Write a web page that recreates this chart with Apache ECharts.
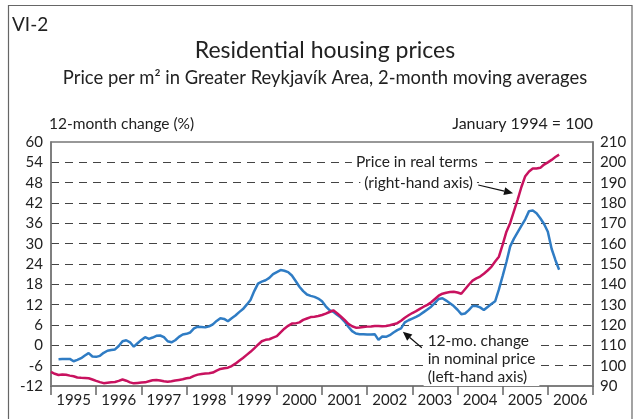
<!DOCTYPE html>
<html>
<head>
<meta charset="utf-8">
<script src="https://cdn.jsdelivr.net/npm/echarts@6/dist/echarts.min.js"></script>
<style>
  html, body { margin: 0; padding: 0; background: #fff; }
  #chart { width: 638px; height: 419px; }
</style>
</head>
<body>
<div id="chart"></div>
<script>
// Year labels for the horizontal axis
const years = ['1995', '1996', '1997', '1998', '1999', '2000',
               '2001', '2002', '2003', '2004', '2005', '2006'];

// Price in real terms, January 1994 = 100 (monthly, Jan 1995 - Apr 2006)
const realPrice = [
  96.9, 96.0, 95.4, 95.6, 95.5, 95.1, 94.8, 94.2, 94.0, 93.9, 93.8, 93.2,
  92.5, 91.9, 91.4, 91.6, 91.8, 92.0, 92.5, 93.2, 92.6, 91.8, 91.3, 91.5,
  91.7, 91.8, 92.3, 92.8, 93.0, 92.7, 92.3, 92.1, 92.3, 92.7, 93.0, 93.3,
  93.8, 94.1, 95.0, 95.6, 95.9, 96.1, 96.3, 96.6, 97.6, 98.4, 98.7, 99.0,
  99.8, 101.0, 102.4, 103.8, 105.3, 106.8, 108.5, 110.3, 112.0, 112.7, 113.0, 113.8,
  114.5, 116.4, 118.2, 119.6, 120.7, 120.8, 121.3, 122.5, 123.2, 123.9, 124.1, 124.4,
  124.9, 125.6, 126.4, 127.2, 125.8, 124.2, 122.5, 120.6, 119.4, 118.7, 118.8, 119.0,
  119.2, 119.3, 119.5, 119.5, 119.4, 119.5, 119.9, 120.4, 120.9, 122.1, 123.6, 124.8,
  125.9, 126.8, 127.9, 129.0, 129.9, 131.2, 132.8, 134.4, 135.4, 135.9, 136.2, 136.4,
  136.0, 135.4, 137.6, 139.8, 141.8, 142.9, 143.8, 145.2, 146.8, 148.6, 151.2, 153.6,
  159.5, 165.9, 170.2, 176.0, 181.8, 188.0, 193.2, 195.5, 197.0, 197.0, 197.3, 198.9,
  200.0, 201.2, 202.6, 203.8
];

// 12-month change in nominal price, % (monthly, Mar 1995 - Apr 2006)
const nominalChange = [
  -4.1, -4.0, -4.0, -4.0, -4.7, -4.3, -3.8, -3.0, -2.3, -3.3,
  -3.4, -3.1, -2.2, -1.6, -1.4, -1.2, -0.2, 1.2, 1.5, 0.9, -0.4, 0.6,
  1.6, 2.4, 1.9, 2.3, 2.8, 2.9, 2.4, 1.2, 0.9, 1.5, 2.5, 3.2,
  3.4, 3.8, 5.0, 5.5, 5.4, 5.3, 5.6, 6.2, 7.2, 8.0, 7.8, 7.1,
  8.0, 8.8, 9.8, 10.7, 12.0, 13.4, 16.0, 18.2, 18.8, 19.2, 19.9, 21.0,
  21.6, 22.2, 22.0, 21.6, 20.6, 19.0, 17.3, 16.0, 15.0, 14.6, 14.3, 13.8,
  13.0, 11.5, 10.4, 9.9, 9.0, 8.2, 7.0, 5.5, 4.2, 3.5, 3.3, 3.3,
  3.2, 3.2, 3.3, 1.6, 2.6, 2.5, 3.0, 3.8, 4.5, 5.0, 6.8, 7.4,
  7.9, 8.4, 9.0, 9.8, 10.6, 11.4, 12.5, 13.7, 13.9, 13.2, 12.4, 11.6,
  10.5, 9.2, 9.4, 10.4, 11.6, 11.6, 11.2, 10.4, 11.3, 12.2, 13.0, 16.5,
  20.5, 24.6, 29.2, 31.5, 33.4, 35.3, 37.2, 39.6, 39.8, 39.0, 37.5, 35.8,
  33.5, 28.5, 25.2, 22.3
];

const realStart = 1995;             // January 1995
const nominalStart = 1995 + 2 / 12; // March 1995

function monthly(start, values) {
  return values.map((v, i) => [start + i / 12, v]);
}

const FONT = 'Lato';
const TEXT = '#222';
const AXIS = '#777';
const BLUE = '#2f7cc4';
const RED = '#c8125f';

const chart = echarts.init(document.getElementById('chart'), null, { renderer: 'canvas' });

chart.setOption({
  animation: false,
  backgroundColor: '#fff',
  textStyle: { fontFamily: FONT },
  grid: {
    left: 51, right: 45, top: 142, bottom: 33,
    show: true, borderColor: AXIS, borderWidth: 1.5
  },
  xAxis: [
    {
      type: 'value', min: 1995, max: 2007, interval: 1, position: 'bottom',
      axisLine: { onZero: false, lineStyle: { color: AXIS, width: 1.5 } },
      axisTick: { show: true, length: 9, lineStyle: { color: '#666', width: 1.5 } },
      axisLabel: { show: false },
      splitLine: { show: false }
    },
    {
      type: 'category', data: years, position: 'bottom', offset: 0,
      boundaryGap: true,
      axisLine: { show: false, onZero: false }, axisTick: { show: false },
      axisLabel: { interval: 0, color: TEXT, fontSize: 15, fontFamily: FONT, margin: 7 },
      splitLine: { show: false }
    }
  ],
  yAxis: [
    {
      type: 'value', position: 'left', min: -12, max: 60, interval: 6,
      name: '12-month change (%)', nameLocation: 'end', nameGap: 10,
      nameTextStyle: { color: TEXT, fontSize: 15.5, fontFamily: FONT, align: 'left', padding: [0, 0, 0, -2] },
      axisLine: { show: true, onZero: false, lineStyle: { color: AXIS, width: 1.5 } },
      axisTick: { show: false },
      axisLabel: { color: TEXT, fontSize: 15, fontFamily: FONT, margin: 8 },
      splitLine: {
        show: true, showMinLine: false, showMaxLine: false,
        lineStyle: { color: '#444', width: 1, type: [8, 6] }
      }
    },
    {
      type: 'value', position: 'right', min: 90, max: 210, interval: 10,
      name: 'January 1994 = 100', nameLocation: 'end', nameGap: 10,
      nameTextStyle: { color: TEXT, fontSize: 16, fontFamily: FONT, align: 'right', padding: [0, 0, 0, 0] },
      axisLine: { show: true, onZero: false, lineStyle: { color: AXIS, width: 1.5 } },
      axisTick: { show: false },
      axisLabel: { color: TEXT, fontSize: 15, fontFamily: FONT, margin: 7 },
      splitLine: { show: false }
    }
  ],
  series: [
    {
      name: '12-mo. change in nominal price',
      type: 'line', xAxisIndex: 0, yAxisIndex: 0,
      data: monthly(nominalStart, nominalChange),
      showSymbol: false, smooth: false,
      lineStyle: { color: BLUE, width: 2.5 }
    },
    {
      name: 'Price in real terms',
      type: 'line', xAxisIndex: 0, yAxisIndex: 1,
      data: monthly(realStart, realPrice),
      showSymbol: false, smooth: false,
      lineStyle: { color: RED, width: 2.5 }
    }
  ]
});

// Frame, headings and callouts
const px = (x, y) => chart.convertToPixel({ xAxisIndex: 0, yAxisIndex: 0 }, [x, y]);

function arrow(from, to, size) {
  const dx = to[0] - from[0], dy = to[1] - from[1];
  const len = Math.sqrt(dx * dx + dy * dy);
  const ux = dx / len, uy = dy / len;
  const bx = to[0] - ux * size, by = to[1] - uy * size;
  const w = size * 0.45;
  return [
    { type: 'line', z: 20, shape: { x1: from[0], y1: from[1], x2: bx, y2: by },
      style: { stroke: '#111', lineWidth: 1.2 } },
    { type: 'polygon', z: 20,
      shape: { points: [to, [bx - uy * w, by + ux * w], [bx + uy * w, by - ux * w]] },
      style: { fill: '#111' } }
  ];
}

const realLabel = px(2003.1, 54);
const realLabel2 = px(2003.14, 48);
const nomLabel = px(2003.25, 3.95);

chart.setOption({
  graphic: [
    { type: 'rect', z: 0, silent: true,
      shape: { x: 8.5, y: 5.5, width: 623.5, height: 430 },
      style: { fill: 'none', stroke: '#666', lineWidth: 1.2 } },
    { type: 'text', left: 12, top: 15,
      style: { text: 'VI-2', fontFamily: FONT, fontSize: 19, fill: TEXT } },
    { type: 'text', x: 325, y: 51,
      style: { text: 'Residential housing prices', fontFamily: FONT, fontSize: 23,
               fill: TEXT, align: 'center', verticalAlign: 'middle' } },
    { type: 'text', x: 325, y: 78,
      style: { text: 'Price per m\u00b2 in Greater Reykjav\u00edk Area, 2-month moving averages',
               fontFamily: FONT, fontSize: 18.4, fill: TEXT, align: 'center', verticalAlign: 'middle' } },
    { type: 'text', z: 15, x: realLabel[0], y: realLabel[1],
      style: { text: 'Price in real terms', fontFamily: FONT, fontSize: 15.5, fill: TEXT,
               align: 'center', verticalAlign: 'middle', backgroundColor: '#fff', padding: [1, 4] } },
    { type: 'text', z: 15, x: realLabel2[0], y: realLabel2[1],
      style: { text: '(right-hand axis)', fontFamily: FONT, fontSize: 15.5, fill: TEXT,
               align: 'center', verticalAlign: 'middle', backgroundColor: '#fff', padding: [1, 4] } },
    { type: 'text', z: 15, x: nomLabel[0], y: nomLabel[1],
      style: { text: '12-mo. change\nin nominal price\n(left-hand axis)', fontFamily: FONT,
               fontSize: 15.5, lineHeight: 18, fill: TEXT, align: 'left', verticalAlign: 'top',
               backgroundColor: '#fff', padding: [0, 4] } }
  ].concat(
    arrow(px(2004.46, 47.3), px(2005.23, 44.9), 9),
    arrow(px(2003.21, -0.7), px(2002.79, 4.0), 9)
  )
});
</script>
</body>
</html>
